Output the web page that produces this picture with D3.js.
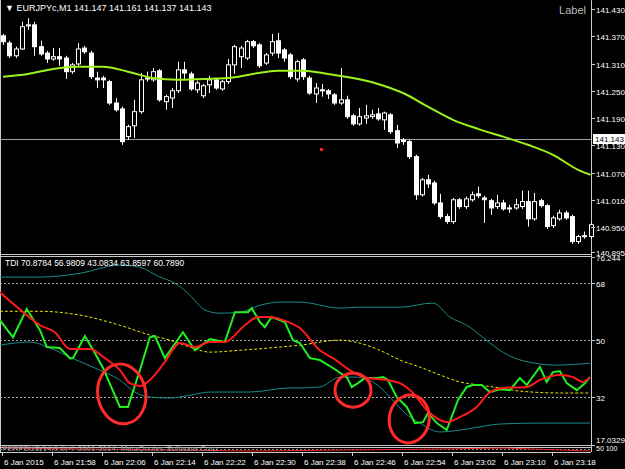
<!DOCTYPE html>
<html>
<head>
<meta charset="utf-8">
<script src="https://cdn.jsdelivr.net/npm/d3@7"></script>
<style>
  body { margin: 0; background: #000; }
  text { font-family: "Liberation Sans", "DejaVu Sans", sans-serif; }
</style>
</head>
<body>
<div id="chart"></div>
<script>
// candles: [open, close, high, low]
var candles = [
  [141.371,141.358,141.375,141.351],[141.355,141.327,141.360,141.322],[141.327,141.342,141.347,141.322],
  [141.342,141.391,141.402,141.340],[141.393,141.395,141.410,141.384],[141.395,141.347,141.402,141.327],
  [141.347,141.331,141.360,141.327],[141.333,141.320,141.338,141.311],[141.320,141.325,141.344,141.316],
  [141.325,141.320,141.344,141.305],[141.322,141.292,141.327,141.276],[141.292,141.307,141.311,141.287],
  [141.309,141.342,141.355,141.305],[141.344,141.336,141.349,141.331],[141.333,141.281,141.338,141.276],
  [141.278,141.274,141.292,141.256],[141.278,141.274,141.283,141.256],[141.270,141.223,141.274,141.219],
  [141.223,141.208,141.234,141.204],[141.210,141.138,141.215,141.131],[141.149,141.171,141.175,141.142],
  [141.173,141.204,141.230,141.146],[141.204,141.274,141.289,141.199],[141.276,141.278,141.292,141.270],
  [141.274,141.292,141.300,141.270],[141.294,141.230,141.298,141.226],[141.226,141.237,141.241,141.208],
  [141.234,141.250,141.256,141.212],[141.250,141.296,141.314,141.245],[141.296,141.289,141.314,141.274],
  [141.287,141.254,141.292,141.250],[141.252,141.267,141.272,141.245],[141.239,141.261,141.265,141.234],
  [141.263,141.274,141.283,141.245],[141.274,141.256,141.278,141.252],[141.254,141.270,141.274,141.250],
  [141.270,141.307,141.320,141.265],[141.307,141.347,141.351,141.287],[141.325,141.344,141.349,141.300],
  [141.322,141.358,141.362,141.318],[141.358,141.349,141.362,141.344],[141.351,141.305,141.355,141.300],
  [141.311,141.329,141.333,141.307],[141.333,141.358,141.375,141.327],[141.360,141.333,141.377,141.322],
  [141.340,141.322,141.344,141.314],[141.329,141.281,141.333,141.276],[141.276,141.314,141.318,141.270],
  [141.318,141.281,141.322,141.274],[141.278,141.245,141.283,141.241],[141.243,141.256,141.267,141.223],
  [141.252,141.250,141.265,141.237],[141.250,141.243,141.254,141.232],[141.241,141.223,141.245,141.219],
  [141.223,141.230,141.300,141.219],[141.230,141.193,141.239,141.188],[141.195,141.177,141.199,141.173],
  [141.177,141.193,141.212,141.173],[141.190,141.195,141.219,141.177],[141.193,141.197,141.208,141.188],
  [141.199,141.188,141.212,141.184],[141.186,141.201,141.204,141.164],[141.197,141.160,141.201,141.155],
  [141.162,141.135,141.175,141.124],[141.142,141.138,141.146,141.131],[141.138,141.105,141.142,141.100],
  [141.105,141.021,141.109,141.010],[141.021,141.054,141.058,141.017],[141.054,141.045,141.065,141.036],
  [141.047,141.003,141.052,140.999],[141.003,140.973,141.023,140.968],[140.973,140.962,140.979,140.957],
  [140.962,141.010,141.014,140.957],[141.010,140.995,141.014,140.990],[140.995,141.012,141.017,140.990],
  [141.010,141.021,141.028,141.006],[141.023,141.019,141.039,141.014],[141.014,141.010,141.019,140.959],
  [141.008,140.992,141.012,140.977],[140.995,141.003,141.021,140.990],[141.003,140.990,141.010,140.986],
  [140.992,140.990,140.999,140.981],[140.992,140.999,141.012,140.988],[140.995,141.006,141.030,140.990],
  [141.006,140.968,141.030,140.951],[140.968,141.006,141.025,140.964],[141.008,140.997,141.012,140.993],
  [140.997,140.951,141.001,140.946],[140.953,140.970,140.975,140.948],[140.968,140.981,140.988,140.964],
  [140.981,140.970,140.986,140.966],[140.973,140.918,140.977,140.913],[140.918,140.929,140.933,140.913],
  [140.929,140.931,140.940,140.924],[140.929,140.955,140.960,140.924]
];
// moving average [candle index, price]
var maLine = [[0,141.281],[4,141.287],[8,141.298],[12,141.303],[16,141.303],[20,141.292],[24,141.278],
  [28,141.274],[32,141.276],[36,141.278],[40,141.287],[44,141.294],[48,141.294],[52,141.287],[56,141.278],
  [60,141.265],[64,141.245],[68,141.215],[72,141.186],[76,141.166],[80,141.149],[84,141.131],[88,141.109],
  [92,141.076],[94,141.065]];
var priceTicks = [141.430,141.370,141.310,141.250,141.190,141.130,141.070,141.010,140.950,140.895];
var lastPrice = 141.143;
var timeLabels = ["6 Jan 2015","6 Jan 21:58","6 Jan 22:06","6 Jan 22:14","6 Jan 22:22","6 Jan 22:30",
  "6 Jan 22:38","6 Jan 22:46","6 Jan 22:54","6 Jan 23:02","6 Jan 23:10","6 Jan 23:18"];

// TDI lines [candle index, value]
var tdiGreen = [[-0.5,56.3],[1.6,50.9],[3.8,59.8],[5.9,53.2],[7,47.8],[9.1,47.5],[10.7,44.3],[11.2,44.3],
  [13.1,51.3],[14.7,45.9],[16,41.2],[18.7,28.9],[20,28.9],[21.9,40.5],[23.5,50.9],[24.3,51.3],[25.9,44.3],
  [28.8,52.5],[30.7,46.8],[33.1,50.3],[35.5,49.4],[37.1,58.8],[39.2,58.8],[39.8,60.1],[41.1,55.7],[41.9,54.1],
  [43,57.3],[45.1,55.7],[46.4,50],[47.5,49.1],[49.1,44.3],[50.7,43.7],[52.8,41.2],[55,38.3],[55.8,35.2],
  [56.8,36.4],[57.9,38],[60,38],[60.8,38.3],[61.6,37.4],[63,32],[64.6,28.9],[65.9,23.8],[67.2,24.1],[68,27],
  [69.4,23.8],[71,21.6],[72.8,31.1],[74.2,35.2],[75.2,35.8],[76.6,35.8],[77.9,33.6],[79.5,34.5],[81.1,34.2],
  [82.7,38],[83.8,35.8],[85.9,41.5],[87,36.8],[88,39.9],[89.1,40.2],[90.2,36.4],[91.8,34.2],[93.1,36.4],[93.9,38.3]];
var tdiRed = [[-0.5,65.1],[3.8,57.9],[5.9,54.7],[8.3,52.5],[10.7,47.2],[13.9,47.2],[16.3,44.3],[18.7,40.5],
  [20.3,36.4],[21.9,35.5],[23.5,37.4],[25.9,43.1],[28.3,49.1],[30.7,47.8],[33.1,49.4],[35.5,49.4],[38.7,54.7],
  [40.8,57.3],[42.7,57.3],[44.8,56.3],[47.5,53.8],[50.7,46.8],[52.8,44.3],[56,39.9],[58.2,38.0],[61.4,37.4],
  [63.5,36.4],[65.6,33.3],[67.8,27.9],[71,24.1],[73.1,25.7],[75.8,28.9],[77.9,33.6],[80,34.9],[83.8,35.2],
  [85.9,37.4],[89.1,39.0],[91.2,38.3],[92.8,36.8],[93.9,38.3]];
var tdiMid = [[-0.5,59.1],[5.9,59.1],[12.3,57.9],[18.7,54.7],[23.5,51.6],[26.7,50],[29.9,47.8],[33.1,46.2],
  [37.9,46.8],[44.3,47.8],[47.5,48.4],[53.9,50],[56.3,49.4],[60.3,46.8],[63.5,43.7],[66.7,41.5],[69.9,39.0],
  [73.1,36.8],[76.3,35.8],[79.5,34.9],[82.7,33.9],[89.1,33.3],[93.9,33.3]];
var tdiUpper = [[-0.5,69.9],[5.9,69.9],[12.3,71.1],[18.7,73.7],[21.9,73.0],[25.1,69.9],[27.5,68.0],[29.9,64.2],
  [32.3,59.5],[34.7,58.5],[37.9,58.8],[41.1,61.0],[44.3,62.0],[47.5,62.0],[53.9,60.1],[57.1,60.4],[63.5,60.4],
  [68.8,61.7],[71.5,57.3],[74.7,54.1],[76.3,51.6],[77.9,49.1],[79.5,46.8],[81.9,44.3],[85.1,42.7],[88.3,42.1],[93.9,42.7]];
var tdiLower = [[-0.5,48.4],[4.3,49.4],[7.5,47.5],[10.7,44.6],[15.5,40.5],[18.7,37.4],[21.1,33.6],[23.5,32.0],
  [26.7,31.7],[29.9,32.6],[33.1,33.6],[39.5,33.6],[45.9,34.9],[47.5,34.9],[50.7,35.2],[53.9,38.3],[56.3,38.3],
  [59.5,36.4],[61.9,32.0],[64.3,27.0],[66.7,23.8],[69.9,21.0],[73.1,21.6],[76.3,22.6],[79.5,23.5],[85.9,23.8],[93.9,23.8]];
var tdiLevels = [68, 50, 32];
var tdiTicks = ["76.244", "68", "50", "32", "17.0329"];
// hand-drawn marks [candle index, value]
var marks = [[19,33.0,24,30,-10],[56,34.2,18,17,0],[65,25.1,20,24,8]];

var W = 625, H = 469, plotR = 591;
var svg = d3.select("#chart").append("svg").attr("width", W).attr("height", H)
  .style("background", "#000");

var x = d3.scaleLinear().domain([0, 94]).range([3, 590.5]);
var yP = d3.scaleLinear().domain([140.895, 141.430]).range([252, 9]);
var yT = d3.scaleLinear().domain([17.0329, 76.244]).range([444.5, 257]);

// frames
svg.append("line").attr("x1", plotR + 0.5).attr("x2", plotR + 0.5).attr("y1", 0).attr("y2", 452).attr("stroke", "#c8c8c8");
[254.5, 256.5, 445.5, 447.5, 452.5].forEach(function(y) {
  svg.append("line").attr("x1", 0).attr("x2", plotR).attr("y1", y).attr("y2", y).attr("stroke", "#c8c8c8");
});
svg.append("line").attr("x1", 0.5).attr("x2", 0.5).attr("y1", 0).attr("y2", 452).attr("stroke", "#c8c8c8");

// upper panel
var up = svg.append("g");
up.append("line").attr("x1", 0).attr("x2", plotR).attr("y1", Math.round(yP(lastPrice)) + 0.5)
  .attr("y2", Math.round(yP(lastPrice)) + 0.5).attr("stroke", "#a0a0a0");

candles.forEach(function(c, i) {
  var cx = Math.round(x(i)) + 0.5, o = c[0], cl = c[1];
  up.append("line").attr("x1", cx).attr("x2", cx).attr("y1", yP(c[2])).attr("y2", yP(c[3]))
    .attr("stroke", "#fff").attr("stroke-width", 1);
  var top = yP(Math.max(o, cl)), bot = yP(Math.min(o, cl));
  up.append("rect").attr("x", cx - 2).attr("y", top).attr("width", 4).attr("height", Math.max(1, bot - top))
    .attr("fill", cl < o ? "#fff" : "#000").attr("stroke", "#fff").attr("stroke-width", 1);
});

up.append("path").datum(maLine)
  .attr("d", d3.line().x(function(d) { return x(d[0]); }).y(function(d) { return yP(d[1]); }).curve(d3.curveMonotoneX))
  .attr("fill", "none").attr("stroke", "#9cf21a").attr("stroke-width", 2);

up.append("rect").attr("x", 320).attr("y", 148).attr("width", 3).attr("height", 3).attr("fill", "#ff2020");

up.append("text").attr("x", 5).attr("y", 11).attr("font-size", 9).attr("fill", "#fff")
  .text("\u25BC EURJPYc,M1  141.147 141.161 141.137 141.143");
up.append("text").attr("x", 586).attr("y", 14).attr("text-anchor", "end").attr("font-size", 11)
  .attr("fill", "#bbb").text("Label");

priceTicks.forEach(function(p) {
  var y = Math.round(yP(p)) + 0.5;
  svg.append("line").attr("x1", plotR).attr("x2", plotR + 4).attr("y1", y).attr("y2", y).attr("stroke", "#c8c8c8");
  svg.append("text").attr("x", 596).attr("y", y + 3).attr("font-size", 8).attr("fill", "#fff").text(p.toFixed(3));
});
var ly = Math.round(yP(lastPrice));
svg.append("rect").attr("x", 593).attr("y", ly - 5).attr("width", 32).attr("height", 10).attr("fill", "#fff");
svg.append("text").attr("x", 595).attr("y", ly + 3).attr("font-size", 8).attr("fill", "#000").text(lastPrice.toFixed(3));

// TDI panel
var lo = svg.append("g");
tdiLevels.forEach(function(v) {
  lo.append("line").attr("x1", 0).attr("x2", plotR).attr("y1", Math.round(yT(v)) + 0.5).attr("y2", Math.round(yT(v)) + 0.5)
    .attr("stroke", "#aaa").attr("stroke-dasharray", "2,2");
});
var tline = d3.line().x(function(d) { return x(d[0]); }).y(function(d) { return yT(d[1]); }).curve(d3.curveLinear);
var smooth = d3.line().x(function(d) { return x(d[0]); }).y(function(d) { return yT(d[1]); }).curve(d3.curveMonotoneX);
[[tdiUpper, "#1c8a8a", 1, null, smooth], [tdiLower, "#1c8a8a", 1, null, smooth],
 [tdiMid, "#e6e600", 1, "3,2", smooth], [tdiGreen, "#22ee22", 2, null, tline], [tdiRed, "#ff1a1a", 2, null, smooth]]
  .forEach(function(s) {
    lo.append("path").datum(s[0]).attr("d", s[4]).attr("fill", "none").attr("stroke", s[1])
      .attr("stroke-width", s[2]).attr("stroke-dasharray", s[3]);
  });

marks.forEach(function(m) {
  lo.append("ellipse").attr("cx", 0).attr("cy", 0).attr("rx", m[2]).attr("ry", m[3])
    .attr("transform", "translate(" + x(m[0]) + "," + yT(m[1]) + ") rotate(" + m[4] + ")")
    .attr("fill", "none").attr("stroke", "#ff2a2a").attr("stroke-width", 3);
});

lo.append("text").attr("x", 5).attr("y", 266).attr("font-size", 8.5).attr("fill", "#fff")
  .text("TDI 70.8784 56.9809 43.0834 63.8597 60.7890");

tdiTicks.forEach(function(t) {
  var y = Math.round(yT(+t)) + 0.5;
  svg.append("line").attr("x1", plotR).attr("x2", plotR + 4).attr("y1", y).attr("y2", y).attr("stroke", "#c8c8c8");
  svg.append("text").attr("x", 596).attr("y", Math.min(y + 3, 443)).attr("font-size", 8).attr("fill", "#fff").text(t);
});

// tiny bottom panel
svg.append("line").attr("x1", 0).attr("x2", plotR).attr("y1", 449.5).attr("y2", 449.5).attr("stroke", "#888").attr("stroke-dasharray", "2,2");
svg.append("path").datum([[0,448],[40,451],[70,449],[80,448],[94,451]])
  .attr("d", d3.line().x(function(d) { return x(d[0]); }).y(function(d) { return d[1]; }))
  .attr("fill", "none").attr("stroke", "#e22").attr("stroke-width", 1);
svg.append("text").attr("x", 2).attr("y", 451).attr("font-size", 8).attr("fill", "#999")
  .text("PERFSUS(14,9,1)   \u00A9 2001-2014, MetaQuotes Software Corp.");
svg.append("text").attr("x", 596).attr("y", 451).attr("font-size", 7).attr("fill", "#fff").text("50 100");

// time axis
timeLabels.forEach(function(t, k) {
  var tx = Math.round(x(k * 8)) - 1;
  svg.append("line").attr("x1", tx + 0.5).attr("x2", tx + 0.5).attr("y1", 452).attr("y2", 456).attr("stroke", "#c8c8c8");
  svg.append("text").attr("x", tx + 2).attr("y", 465).attr("font-size", 8).attr("fill", "#fff").text(t);
});
</script>
</body>
</html>
